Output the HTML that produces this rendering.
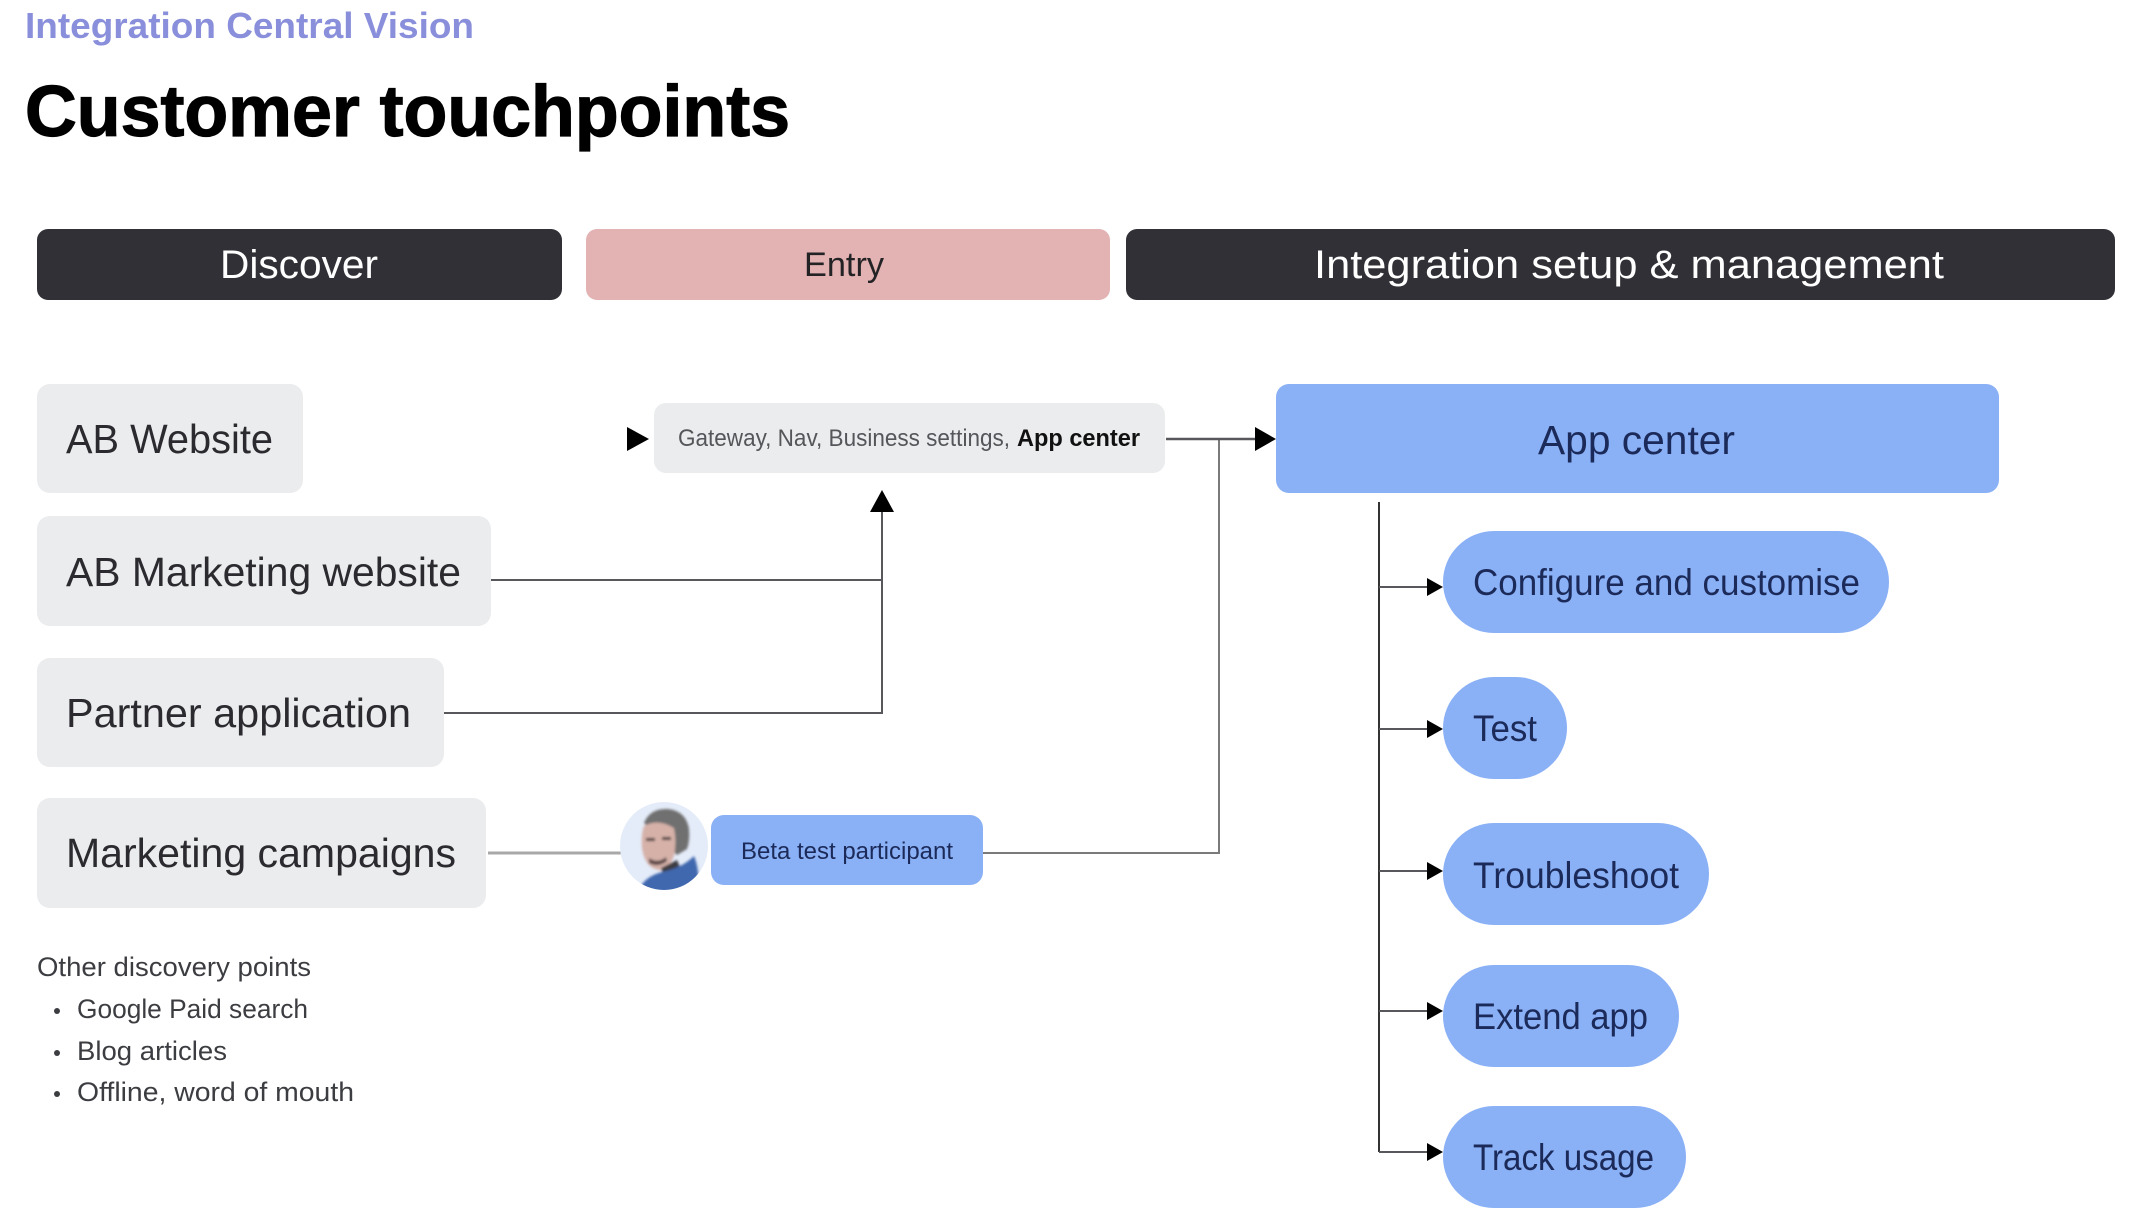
<!DOCTYPE html>
<html><head><meta charset="utf-8"><title>Customer touchpoints</title>
<style>html,body{margin:0;padding:0;background:#fff}svg{display:block}
text{font-family:"Liberation Sans",sans-serif;white-space:pre}</style></head>
<body>
<svg xmlns="http://www.w3.org/2000/svg" width="2140" height="1226" viewBox="0 0 2140 1226">
<rect width="2140" height="1226" fill="#fff"/>
<text x="25" y="38" font-size="36" font-weight="700" fill="#8a8fdb" textLength="449" lengthAdjust="spacingAndGlyphs">Integration Central Vision</text>
<text x="25" y="136" font-size="72" font-weight="700" fill="#000" stroke="#000" stroke-width="1.2" textLength="765" lengthAdjust="spacingAndGlyphs">Customer touchpoints</text>

<rect x="37" y="229" width="525" height="71" rx="11" fill="#303036"/>
<rect x="586" y="229" width="524" height="71" rx="11" fill="#e3b2b2"/>
<rect x="1126" y="229" width="989" height="71" rx="11" fill="#303036"/>
<text x="220" y="278" font-size="40" fill="#fff" textLength="158" lengthAdjust="spacingAndGlyphs">Discover</text>
<text x="804" y="276" font-size="34" fill="#232326" textLength="80" lengthAdjust="spacingAndGlyphs">Entry</text>
<text x="1314" y="278" font-size="40" fill="#fff" textLength="630" lengthAdjust="spacingAndGlyphs">Integration setup &amp; management</text>

<g fill="#ebeced">
<rect x="37" y="384" width="266" height="109" rx="13"/>
<rect x="37" y="516" width="454" height="110" rx="13"/>
<rect x="37" y="658" width="407" height="109" rx="13"/>
<rect x="37" y="798" width="449" height="110" rx="13"/>
<rect x="654" y="403" width="511" height="70" rx="12"/>
</g>
<g font-size="41" fill="#2b2b2f">
<text x="66" y="453" textLength="207" lengthAdjust="spacingAndGlyphs">AB Website</text>
<text x="66" y="586" textLength="395" lengthAdjust="spacingAndGlyphs">AB Marketing website</text>
<text x="66" y="727" textLength="345" lengthAdjust="spacingAndGlyphs">Partner application</text>
<text x="66" y="867" textLength="390" lengthAdjust="spacingAndGlyphs">Marketing campaigns</text>
</g>
<text x="678" y="446" font-size="24" fill="#55565a" textLength="332" lengthAdjust="spacingAndGlyphs">Gateway, Nav, Business settings,</text>
<text x="1017" y="446" font-size="24" font-weight="700" fill="#111" textLength="123" lengthAdjust="spacingAndGlyphs">App center</text>

<g fill="#8ab0f6">
<rect x="1276" y="384" width="723" height="109" rx="13"/>
<rect x="711" y="815" width="272" height="70" rx="13"/>
<rect x="1443" y="531" width="446" height="102" rx="51"/>
<rect x="1443" y="677" width="124" height="102" rx="51"/>
<rect x="1443" y="823" width="266" height="102" rx="51"/>
<rect x="1443" y="965" width="236" height="102" rx="51"/>
<rect x="1443" y="1106" width="243" height="102" rx="51"/>
</g>
<g fill="#1b2a58">
<text x="1538" y="454" font-size="41" textLength="197" lengthAdjust="spacingAndGlyphs">App center</text>
<text x="741" y="859" font-size="24" textLength="212" lengthAdjust="spacingAndGlyphs">Beta test participant</text>
<g font-size="37">
<text x="1473" y="595" textLength="387" lengthAdjust="spacingAndGlyphs">Configure and customise</text>
<text x="1473" y="741" textLength="64" lengthAdjust="spacingAndGlyphs">Test</text>
<text x="1473" y="888" textLength="206" lengthAdjust="spacingAndGlyphs">Troubleshoot</text>
<text x="1473" y="1029" textLength="175" lengthAdjust="spacingAndGlyphs">Extend app</text>
<text x="1473" y="1170" textLength="181" lengthAdjust="spacingAndGlyphs">Track usage</text>
</g>
</g>

<g fill="none" stroke="#58585c" stroke-width="2">
<path d="M491 580H882V510"/>
<path d="M444 713H882V580"/>
<path d="M488 853H622" stroke="#a8a8a8" stroke-width="3"/>
<path d="M983 853H1219V439" stroke="#7a7a7a"/>
<path d="M1166 439H1258" stroke-width="2.5"/>
<path d="M1379 502V1152" stroke="#333"/>
<path d="M1379 587H1430M1379 729H1430M1379 871H1430M1379 1011H1430M1379 1152H1430"/>
</g>
<g fill="#000">
<path d="M627 427L649 439L627 451Z"/>
<path d="M870 512L882 490L894 512Z"/>
<path d="M1255 427L1276 439L1255 451Z"/>
<path d="M1427 578L1443 587L1427 596Z"/>
<path d="M1427 720L1443 729L1427 738Z"/>
<path d="M1427 862L1443 871L1427 880Z"/>
<path d="M1427 1002L1443 1011L1427 1020Z"/>
<path d="M1427 1143L1443 1152L1427 1161Z"/>
</g>

<defs>
<clipPath id="av"><circle cx="664" cy="846" r="44"/></clipPath>
<filter id="bl"><feGaussianBlur stdDeviation="1.4"/></filter>
</defs>
<circle cx="664" cy="846" r="44" fill="#e4ecf9"/>
<g clip-path="url(#av)"><g filter="url(#bl)">
<path d="M644 823q6-15 24-14q18 2 21 20q1 12-2 20l-10 6z" fill="#6f6f6f"/>
<path d="M644 826q14-8 30 2q3 14 0 28q-6 15-15 14q-14-2-17-22q-1-14 2-22z" fill="#d5b1a8"/>
<path d="M646 838h9v3h-9zM662 837h9v3h-9z" fill="#4a3a3a"/>
<path d="M649 858q9 6 17-1l1 4q-9 7-18 2z" fill="#5d4a48"/>
<path d="M661 868l16-8 5 12-17 7z" fill="#3c3c42"/>
<path d="M638 892q5-15 24-20q20-4 32-16q6 14 4 36z" fill="#3f68ae"/>
</g></g>

<g font-size="27" fill="#3c3d41">
<text x="37" y="976" textLength="274" lengthAdjust="spacingAndGlyphs">Other discovery points</text>
<text x="77" y="1018" textLength="231" lengthAdjust="spacingAndGlyphs">Google Paid search</text>
<text x="77" y="1060" textLength="150" lengthAdjust="spacingAndGlyphs">Blog articles</text>
<text x="77" y="1101" textLength="277" lengthAdjust="spacingAndGlyphs">Offline, word of mouth</text>
</g>
<g fill="#3c3d41"><circle cx="57" cy="1011" r="3"/><circle cx="57" cy="1053" r="3"/><circle cx="57" cy="1094" r="3"/></g>
</svg>
</body></html>
